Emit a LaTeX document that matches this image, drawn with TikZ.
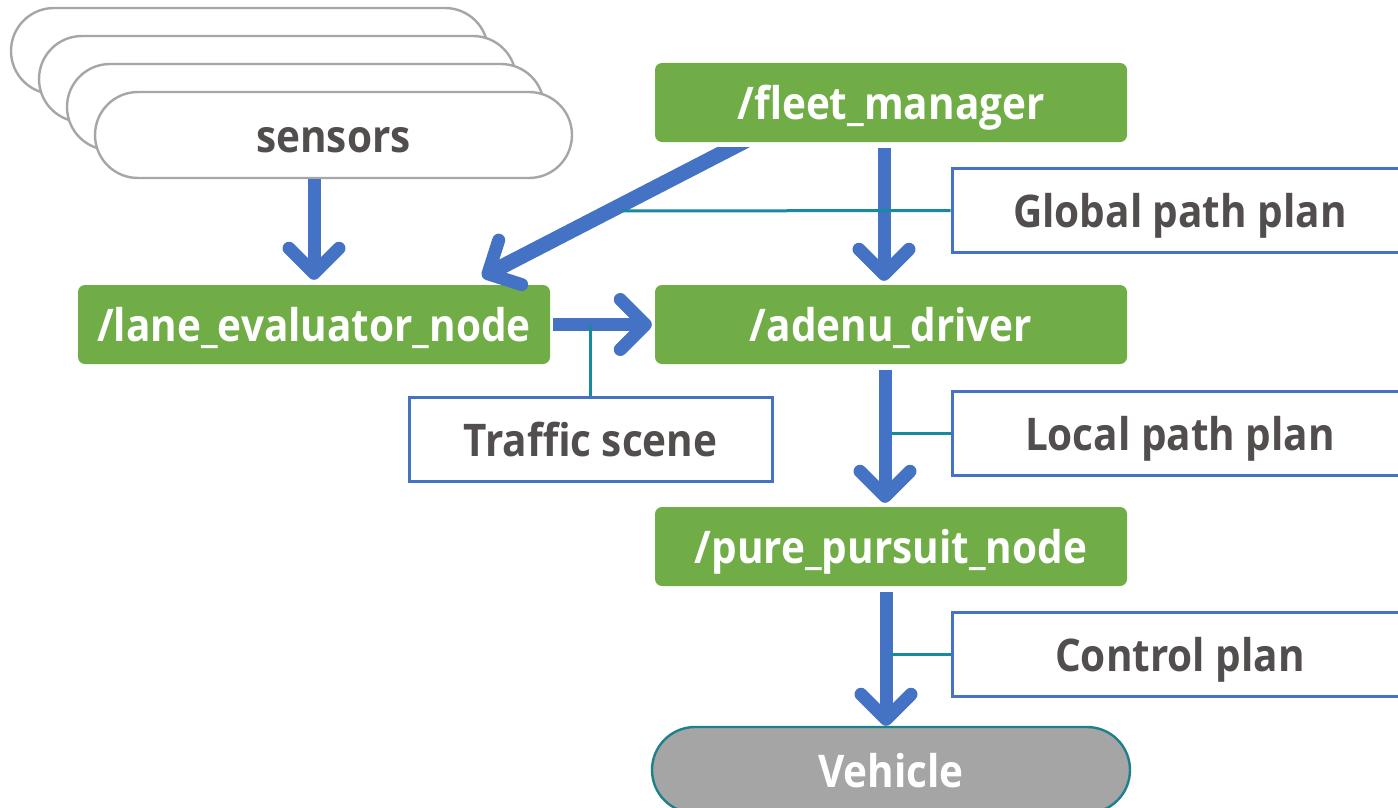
\documentclass[tikz,border=0pt]{standalone}
\usepackage{fontspec}
\setmainfont[FakeStretch=0.9]{Open Sans}
\usetikzlibrary{arrows.meta,calc}
\definecolor{nodegreen}{RGB}{112,173,71}
\definecolor{flowblue}{RGB}{68,114,196}
\definecolor{tagteal}{RGB}{24,137,158}
\definecolor{textgray}{RGB}{82,78,78}
\definecolor{sensorgray}{RGB}{166,166,166}
\definecolor{vehiclegray}{RGB}{165,165,165}
\definecolor{vehicleedge}{RGB}{30,128,138}
\begin{document}
\begin{tikzpicture}[x=1pt,y=-1pt,
  labelfont/.style={font=\bfseries\fontsize{45}{50}\selectfont, text height=34pt, text depth=0pt},
  greenbox/.style={labelfont, fill=nodegreen, rounded corners=7pt, text=white,
    minimum width=472pt, minimum height=79pt, inner sep=0pt},
  sensorbox/.style={labelfont, draw=sensorgray, line width=2.4pt, fill=white,
    rounded corners=43pt, minimum width=477pt, minimum height=86pt, inner sep=0pt, text=textgray},
  tagbox/.style={labelfont, draw=flowblue, line width=3pt, fill=white, text=textgray,
    minimum height=84pt, inner sep=0pt},
  flow/.style={draw=flowblue, line width=13pt,
    -{Straight Barb[length=25pt,width=50pt,round,line width=13pt]}},
  tagline/.style={draw=tagteal, line width=3pt}]

\useasboundingbox (0,0) rectangle (1398,808);
\clip (0,0) rectangle (1398,808);

% stacked sensor outlines, back to front
\node[sensorbox] (s4) at (249.5,51) {};
\node[sensorbox] (s3) at (277.5,79) {};
\node[sensorbox] (s2) at (305.5,107) {};
\node[sensorbox] (sensors) at (333.5,135) {sensors};

% ROS nodes
\node[greenbox] (fleet) at (891,102.5) {/fleet\_manager};
\node[greenbox] (lane)  at (314,324.5) {/lane\_evaluator\_node};
\node[greenbox] (adenu) at (891,324.5) {/adenu\_driver};
\node[greenbox] (pure)  at (891,546.5) {/pure\_pursuit\_node};
\node[labelfont, fill=vehiclegray, draw=vehicleedge, line width=2.4pt, text=white,
  rounded corners=43pt, minimum width=478pt, minimum height=86pt, inner sep=0pt]
  (vehicle) at (891,770) {Vehicle};

% message labels
\node[tagbox, minimum width=456pt] (global)  at (1180,210.5) {Global path plan};
\node[tagbox, minimum width=363pt] (traffic) at (590.5,439) {Traffic scene};
\node[tagbox, minimum width=456pt] (local)   at (1180,433) {Local path plan};
\node[tagbox, minimum width=456pt] (control) at (1180,654) {Control plan};

% data flow
\draw[flow] (sensors.south -| lane.north) -- ($(lane.north)+(0,-5)$);
\begin{scope}
  \clip (0,147) rectangle (1398,808);
  \draw[flow, line width=15pt] ($(fleet.south west)+(96,-4)$) -- ($(lane.north east)+(-68,-8)$);
\end{scope}
\draw[flow] ($(fleet.south)+(-7,6)$) -- ($(adenu.north)+(-7,-4)$);
\draw[flow] ($(lane.east)+(3,0)$) -- ($(adenu.west)+(-3,0)$);
\draw[flow] ($(adenu.south)+(-6,6)$) -- ($(pure.north)+(-6,-4)$);
\draw[flow] ($(pure.south)+(-5,6)$) -- ($(vehicle.north)+(-5,0)$);

% label leaders
\coordinate (gend) at (622,211);
\draw[tagline] (global.west) -- (gend);
\draw[tagline] (traffic.north) -- (traffic.north |- lane.east);
\draw[tagline] (local.west) -- ++(-60,0);
\draw[tagline] (control.west) -- ++(-61,0);
\end{tikzpicture}
\end{document}
